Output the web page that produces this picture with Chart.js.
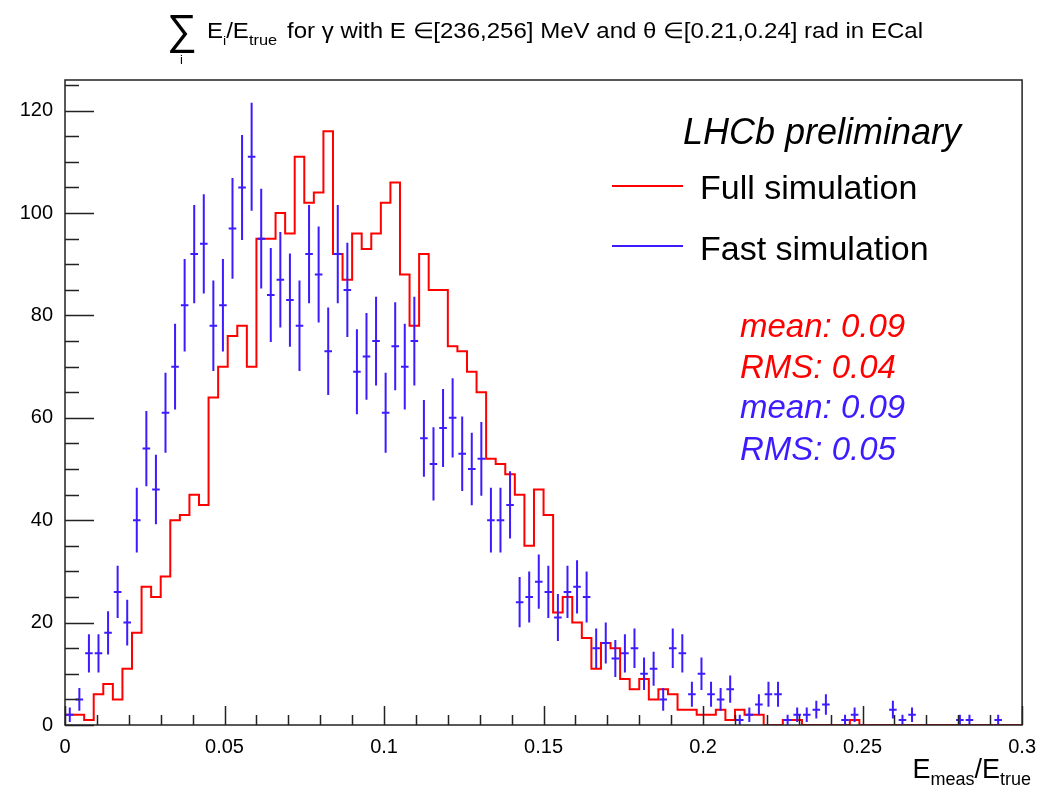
<!DOCTYPE html>
<html>
<head>
<meta charset="utf-8">
<script src="https://cdn.jsdelivr.net/npm/chart.js@4.4.0/dist/chart.umd.min.js"></script>
<style>
  body { margin: 0; background: #fff; }
  #wrap { width: 1046px; height: 788px; }
</style>
</head>
<body>
<div id="wrap"><canvas id="histo" width="1046" height="788"></canvas></div>
<script>
// ----- Data (100 bins, 0 .. 0.3) -----
const xMin = 0, xMax = 0.3, binWidth = 0.003;
const yMax = 126;

const fullSim = [
  2, 2, 1, 6, 8, 5, 11, 18, 27, 25,
  29, 40, 41, 45, 43, 64, 70, 76, 78, 70,
  95, 95, 100, 96, 111, 102, 104, 116, 92, 87,
  96, 93, 96, 102, 106, 88, 78, 92, 85, 85,
  74, 73, 69, 65, 52, 51, 49, 45, 35, 46,
  41, 22, 25, 20, 17, 11, 16, 15, 9, 7,
  9, 5, 7, 6, 3, 3, 2, 2, 3, 1,
  3, 2, 2, 0, 0, 1, 1, 0, 0, 0,
  0, 0, 1, 0, 0, 0, 0, 0, 0, 0,
  0, 0, 0, 0, 0, 0, 0, 0, 0, 0
];

const fastSim = [
  2, 5, 14, 14, 18, 26, 20, 40, 54, 46,
  61, 70, 82, 92, 94, 78, 82, 97, 105, 111,
  95, 84, 87, 83, 78, 92, 88, 73, 92, 85,
  69, 72, 75, 61, 74, 70, 75, 56, 51, 58,
  60, 53, 50, 52, 40, 40, 43, 24, 25, 28,
  26, 21, 26, 27, 25, 15, 16, 13, 14, 15,
  10, 11, 5, 15, 14, 6, 10, 6, 5, 7,
  1, 2, 4, 6, 6, 1, 2, 2, 3, 4,
  0, 1, 2, 0, 0, 0, 3, 1, 2, 0,
  0, 0, 0, 1, 1, 0, 0, 1, 0, 0
];

const xTickValues = [0, 0.05, 0.1, 0.15, 0.2, 0.25, 0.3];
const xTickLabels = ['0', '0.05', '0.1', '0.15', '0.2', '0.25', '0.3'];
const yTickValues = [0, 20, 40, 60, 80, 100, 120];
const seriesNames = ['Full simulation', 'Fast simulation'];
const statTexts = ['mean: 0.09', 'RMS: 0.04', 'mean: 0.09', 'RMS: 0.05'];

const RED = '#ff0000';
const BLUE = '#3c1cff';
const FONT = "'Liberation Sans', Arial, Helvetica, sans-serif";

// step outline points: each bin's low edge, plus the closing edge
const fullPoints = fullSim.map((v, i) => ({ x: i * binWidth, y: v }));
fullPoints.push({ x: xMax, y: fullSim[fullSim.length - 1] });
const fastPoints = fastSim.map((v, i) => ({ x: (i + 0.5) * binWidth, y: v }));

// draws pieces [text, fontPx, dy] one after another, horizontally scaled by sx
function drawPieces(ctx, pieces, x, baseline, sx) {
  ctx.save();
  ctx.translate(x, baseline);
  ctx.scale(sx, 1);
  let cx = 0;
  pieces.forEach(([txt, size, dy, style]) => {
    ctx.font = (style || '') + ' ' + size + 'px ' + FONT;
    ctx.fillText(txt, cx, dy);
    cx += ctx.measureText(txt).width;
  });
  ctx.restore();
  return cx * sx;
}
function piecesWidth(ctx, pieces) {
  let w = 0;
  pieces.forEach(([txt, size, dy, style]) => {
    ctx.font = (style || '') + ' ' + size + 'px ' + FONT;
    w += ctx.measureText(txt).width;
  });
  return w;
}

const rootStyle = {
  id: 'rootStyle',
  afterDatasetsDraw(chart) {
    const { ctx, scales: { x, y } } = chart;
    // Fast simulation: sqrt(N) error bars, x bars over the bin width
    ctx.save();
    ctx.strokeStyle = BLUE;
    ctx.lineWidth = 2;
    fastSim.forEach((n, i) => {
      if (n <= 0) return;
      const err = Math.sqrt(n);
      const xc = x.getPixelForValue((i + 0.5) * binWidth);
      const xl = x.getPixelForValue(i * binWidth);
      const xr = x.getPixelForValue((i + 1) * binWidth);
      const yc = y.getPixelForValue(n);
      ctx.beginPath();
      ctx.moveTo(xc, y.getPixelForValue(n + err));
      ctx.lineTo(xc, y.getPixelForValue(Math.max(n - err, 0)));
      ctx.moveTo(xl + 1, yc);
      ctx.lineTo(xr - 1, yc);
      ctx.stroke();
    });
    ctx.restore();
  },
  afterDraw(chart) {
    const { ctx, chartArea: a, scales: { x, y } } = chart;
    ctx.save();

    // frame
    ctx.strokeStyle = '#222';
    ctx.lineWidth = 1.5;
    ctx.strokeRect(a.left, a.top, a.right - a.left, a.bottom - a.top);

    // ticks pointing into the frame
    ctx.beginPath();
    for (let v = 0; v <= yMax + 1e-9; v += 5) {
      const py = Math.round(y.getPixelForValue(v)) + 0.5;
      const len = (v % 20 === 0) ? 29 : 14;
      ctx.moveTo(a.left, py);
      ctx.lineTo(a.left + len, py);
    }
    for (let k = 0; k <= 30; k++) {
      const px = Math.round(x.getPixelForValue(k * 0.01)) + 0.5;
      const len = (k % 5 === 0) ? 19 : 10;
      ctx.moveTo(px, a.bottom);
      ctx.lineTo(px, a.bottom - len);
    }
    ctx.stroke();

    ctx.fillStyle = '#000';
    ctx.textBaseline = 'alphabetic';
    ctx.textAlign = 'left';

    // title
    const mainText = 'for \u03b3 with E \u2208[236,256] MeV and \u03b8 \u2208[0.21,0.24] rad in ECal';
    ctx.font = '22px ' + FONT;
    const sx = 636 / ctx.measureText(mainText).width;
    ctx.font = '42px ' + FONT;
    ctx.fillText('\u2211', 167, 44);
    ctx.font = '13px ' + FONT;
    ctx.fillText('i', 180, 64);
    drawPieces(ctx, [['E', 22, 0], ['i', 13, 7], ['/E', 22, 0], ['true', 15, 7]], 207, 38, sx);
    drawPieces(ctx, [[mainText, 22, 0]], 287, 38, sx);

    // LHCb label and legend
    ctx.font = 'italic 36px ' + FONT;
    ctx.fillText('LHCb preliminary', 683, 144);
    ctx.font = '34px ' + FONT;
    ctx.fillText(seriesNames[0], 700, 199);
    ctx.fillText(seriesNames[1], 700, 260);
    ctx.lineWidth = 2;
    ctx.strokeStyle = RED;
    ctx.beginPath(); ctx.moveTo(612, 186); ctx.lineTo(683, 186); ctx.stroke();
    ctx.strokeStyle = BLUE;
    ctx.beginPath(); ctx.moveTo(612, 246); ctx.lineTo(683, 246); ctx.stroke();

    // stats
    ctx.font = 'italic 33px ' + FONT;
    const statY = [337, 378, 418, 460];
    statTexts.forEach((t, i) => {
      ctx.fillStyle = i < 2 ? RED : BLUE;
      ctx.fillText(t, 740, statY[i]);
    });

    // x axis title, right aligned at the frame end
    ctx.fillStyle = '#000';
    const xt = [['E', 27, 0], ['meas', 18, 7], ['/E', 27, 0], ['true', 18, 7]];
    const w = piecesWidth(ctx, xt);
    drawPieces(ctx, xt, 1031 - w, 778, 1);

    ctx.restore();
  }
};

new Chart(document.getElementById('histo'), {
  type: 'line',
  data: {
    datasets: [
      {
        label: seriesNames[0],
        data: fullPoints,
        borderColor: RED,
        borderWidth: 2,
        stepped: 'before',
        pointRadius: 0,
        fill: false
      },
      {
        label: seriesNames[1],
        data: fastPoints,
        borderColor: BLUE,
        showLine: false,
        pointRadius: 0
      }
    ]
  },
  options: {
    responsive: false,
    animation: false,
    layout: { padding: { top: 80, right: 18, left: 0, bottom: 0 } },
    plugins: { legend: { display: false }, tooltip: { enabled: false }, title: { display: false } },
    scales: {
      x: {
        type: 'linear',
        min: xMin,
        max: xMax,
        grid: { display: false, drawTicks: false },
        border: { display: false },
        afterBuildTicks: s => { s.ticks = xTickValues.map(v => ({ value: v })); },
        afterFit: s => { s.height = 63; },
        ticks: {
          color: '#000',
          font: { family: FONT, size: 20 },
          padding: 10,
          maxRotation: 0,
          autoSkip: false,
          callback: (v, i) => xTickLabels[i]
        }
      },
      y: {
        min: 0,
        max: yMax,
        grid: { display: false, drawTicks: false },
        border: { display: false },
        afterBuildTicks: s => { s.ticks = yTickValues.map(v => ({ value: v })); },
        afterFit: s => { s.width = 65; },
        ticks: {
          color: '#000',
          font: { family: FONT, size: 20 },
          padding: 12,
          callback: v => String(v)
        }
      }
    }
  },
  plugins: [rootStyle]
});
</script>
</body>
</html>
